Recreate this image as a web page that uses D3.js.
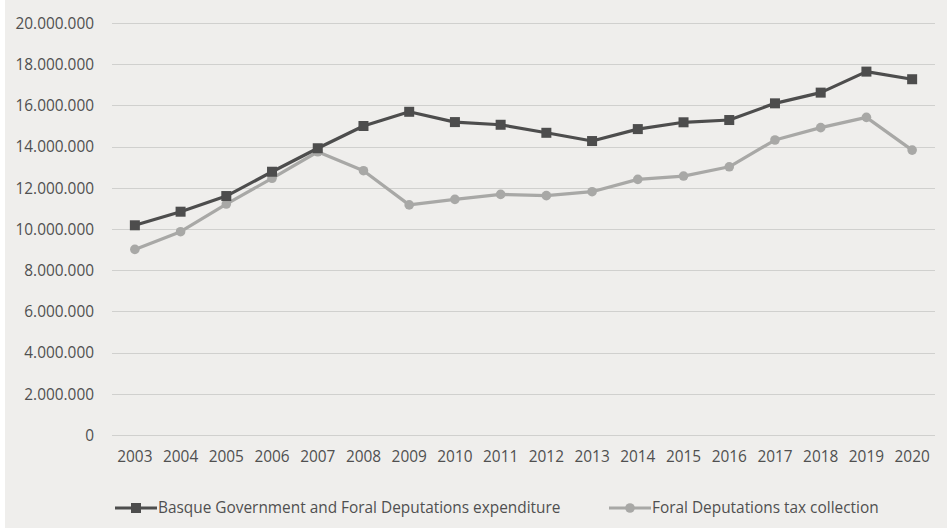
<!DOCTYPE html>
<html>
<head>
<meta charset="utf-8">
<script src="https://cdn.jsdelivr.net/npm/d3@7"></script>
<style>
  html, body { margin: 0; padding: 0; background: #ffffff; }
  svg { display: block; }
  text { font-family: "Open Sans", Lato, sans-serif; fill: #505050; }
</style>
</head>
<body>
<svg id="chart" width="947" height="532"></svg>
<script>
// Years on the horizontal axis
const years = ["2003","2004","2005","2006","2007","2008","2009","2010","2011","2012",
               "2013","2014","2015","2016","2017","2018","2019","2020"];

// Basque Government and Foral Deputations expenditure (thousand euros)
const expenditure = [10180000, 10840000, 11600000, 12780000, 13920000, 15000000, 15690000,
                     15190000, 15060000, 14670000, 14270000, 14850000, 15180000, 15290000,
                     16100000, 16620000, 17640000, 17270000];

// Foral Deputations tax collection (thousand euros)
const taxCollection = [9010000, 9870000, 11210000, 12460000, 13750000, 12830000, 11170000,
                       11440000, 11680000, 11620000, 11810000, 12410000, 12570000, 13020000,
                       14320000, 14920000, 15420000, 13830000];

const yTicks = [0, 2000000, 4000000, 6000000, 8000000, 10000000,
                12000000, 14000000, 16000000, 18000000, 20000000];

const seriesNames = ["Basque Government and Foral Deputations expenditure",
                     "Foral Deputations tax collection"];

const svg = d3.select("#chart");
const W = 947, H = 532;
const FONT = 15.4;

// chart area background
svg.append("rect").attr("x", 5).attr("y", 0).attr("width", W - 5).attr("height", 528)
   .attr("fill", "#efeeec");

const plot = { left: 112, right: 935, top: 23, bottom: 435 };

const x = d3.scaleBand().domain(years).range([plot.left, plot.right]);
const y = d3.scaleLinear().domain([0, 20000000]).range([plot.bottom, plot.top]);

const fmt = v => v === 0 ? "0" : d3.format(",")(v).replace(/,/g, ".");

// horizontal gridlines
svg.append("g")
  .selectAll("line")
  .data(yTicks)
  .join("line")
  .attr("x1", plot.left).attr("x2", plot.right)
  .attr("y1", d => Math.round(y(d)) + 0.5).attr("y2", d => Math.round(y(d)) + 0.5)
  .attr("stroke", "#d0d0ce").attr("stroke-width", 1.2);

// y axis labels
const yAxis = d3.axisLeft(y).tickValues(yTicks).tickFormat(fmt).tickSize(0).tickPadding(0);
const gy = svg.append("g").attr("transform", `translate(${plot.left - 18},0)`).call(yAxis);
gy.select(".domain").remove();
gy.selectAll("text").attr("font-size", FONT).attr("font-family", "'Open Sans', sans-serif")
  .attr("fill", "#505050").attr("dy", "0.35em");

// x axis labels
const xAxis = d3.axisBottom(x).tickSize(0).tickPadding(0);
const gx = svg.append("g").attr("transform", `translate(0,${plot.bottom + 16})`).call(xAxis);
gx.select(".domain").remove();
gx.selectAll("text").attr("font-size", FONT).attr("font-family", "'Open Sans', sans-serif")
  .attr("fill", "#505050").attr("dy", "0.7em");

const cx = d => x(d) + x.bandwidth() / 2;

const line = d3.line().x((d, i) => cx(years[i])).y(d => y(d));

const styles = [
  { data: expenditure, color: "#4d4d4d", marker: "square" },
  { data: taxCollection, color: "#a8a8a6", marker: "circle" }
];

// lines: draw the lighter series first so the darker one sits on top
[styles[1], styles[0]].forEach(s => {
  svg.append("path").datum(s.data)
    .attr("d", line).attr("fill", "none")
    .attr("stroke", s.color).attr("stroke-width", 3.2)
    .attr("stroke-linejoin", "round");
  const g = svg.append("g");
  if (s.marker === "square") {
    g.selectAll("rect").data(s.data).join("rect")
      .attr("x", (d, i) => cx(years[i]) - 5).attr("y", d => y(d) - 5)
      .attr("width", 10).attr("height", 10).attr("fill", s.color);
  } else {
    g.selectAll("circle").data(s.data).join("circle")
      .attr("cx", (d, i) => cx(years[i])).attr("cy", d => y(d))
      .attr("r", 4.8).attr("fill", s.color);
  }
});

// legend
const legendY = 508;
const legendItems = [
  { x: 115, name: seriesNames[0], s: styles[0] },
  { x: 609, name: seriesNames[1], s: styles[1] }
];
legendItems.forEach(it => {
  const g = svg.append("g");
  g.append("line").attr("x1", it.x).attr("x2", it.x + 42)
    .attr("y1", legendY).attr("y2", legendY)
    .attr("stroke", it.s.color).attr("stroke-width", 3.2);
  if (it.s.marker === "square") {
    g.append("rect").attr("x", it.x + 21 - 5).attr("y", legendY - 5)
      .attr("width", 10).attr("height", 10).attr("fill", it.s.color);
  } else {
    g.append("circle").attr("cx", it.x + 21).attr("cy", legendY).attr("r", 4.8)
      .attr("fill", it.s.color);
  }
  g.append("text").attr("x", it.x + 43).attr("y", legendY).attr("dy", "0.35em")
    .attr("font-size", FONT).text(it.name);
});
</script>
</body>
</html>
